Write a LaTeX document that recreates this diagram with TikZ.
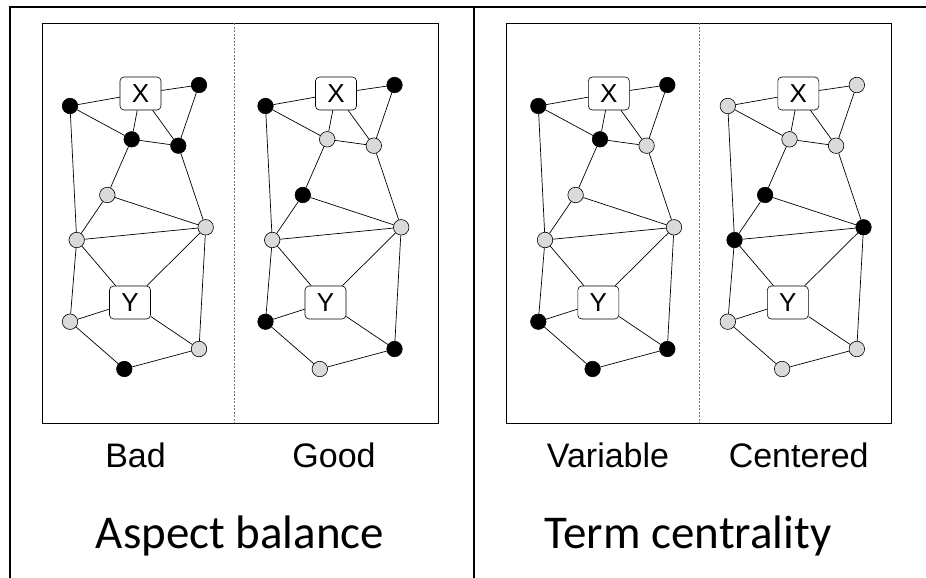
\documentclass[tikz,border=0pt]{standalone}
\usepackage{fontspec}
\setmainfont{Liberation Sans}
\newfontfamily\calfont{Carlito}
\newcommand{\termfont}{\fontsize{26}{26}\selectfont}
\definecolor{nodegray}{RGB}{218,218,218}
\definecolor{dashgray}{RGB}{120,120,120}
\begin{document}
\begin{tikzpicture}[x=1pt,y=-1pt,
  vtx/.style={circle,draw=black,line width=0.6pt,minimum size=15.5pt,inner sep=0pt},
  blk/.style={vtx,fill=black},
  gry/.style={vtx,fill=nodegray},
  termbox/.style={draw=black,line width=0.6pt,rounded corners=4pt,fill=white,
    minimum width=41pt,minimum height=33pt,inner sep=0pt},
  link/.style={line width=0.7pt,draw=black},
  frameline/.style={line width=1.7pt,draw=black},
  panelbox/.style={line width=0.8pt,draw=black},
  divider/.style={line width=0.8pt,draw=dashgray,dash pattern=on 2pt off 1.5pt},
  sublabel/.style={anchor=base,font=\fontsize{34}{34}\selectfont},
  mainlabel/.style={anchor=base,font=\calfont\fontsize{47}{47}\selectfont}]
\useasboundingbox (0,0) rectangle (926,578);
\fill[white] (0,0) rectangle (926,578);
% outer frame
\draw[frameline] (9,6.7) -- (926,6.7);
\draw[frameline] (10,6) -- (10,578);
\draw[frameline] (474.3,6) -- (474.3,578);
% panel boxes
\draw[panelbox] (42.7,23.3) rectangle (438.3,423.3);
\draw[panelbox] (506,23.3) rectangle (891.7,423.3);
\coordinate (d1t) at (234.7,23.3); \coordinate (d1b) at (234.7,423.3);
\coordinate (d2t) at (699,23.3); \coordinate (d2b) at (699,423.3);
\draw[divider] (d1t) -- (d1b);
\draw[divider] (d2t) -- (d2b);
% graphs
\foreach \p/\dx/\ca/\cb/\cc/\cd/\ce/\cf/\cg/\ch/\ci/\cj in {
  A/0/blk/blk/blk/blk/gry/gry/gry/gry/gry/blk,
  B/195.5/blk/blk/gry/gry/blk/gry/gry/blk/blk/gry,
  C/468.3/blk/blk/blk/gry/gry/gry/gry/blk/blk/blk,
  D/657.8/gry/gry/gry/gry/blk/blk/blk/gry/gry/gry}{
  \begin{scope}[xshift=\dx]
    \node[termbox] (\p X) at (140.5,93.5) {\termfont X};
    \node[termbox] (\p Y) at (130,302.5) {\termfont Y};
    \node[\ca] (\p a) at (70,106) {};
    \node[\cb] (\p b) at (199,85) {};
    \node[\cc] (\p c) at (131.7,139.3) {};
    \node[\cd] (\p d) at (178.3,145.7) {};
    \node[\ce] (\p e) at (107.3,195) {};
    \node[\cf] (\p f) at (205.7,227.3) {};
    \node[\cg] (\p g) at (76.7,240) {};
    \node[\ch] (\p h) at (70,321.7) {};
    \node[\ci] (\p i) at (199,349) {};
    \node[\cj] (\p j) at (124.3,369) {};
    \draw[link] (\p a) -- (\p X);
    \draw[link] (\p X) -- (\p b);
    \draw[link] (\p a) -- (\p c);
    \draw[link] (\p X) -- (\p c);
    \draw[link] (\p X) -- (\p d);
    \draw[link] (\p b) -- (\p d);
    \draw[link] (\p c) -- (\p d);
    \draw[link] (\p c) -- (\p e);
    \draw[link] (\p a) -- (\p g);
    \draw[link] (\p e) -- (\p g);
    \draw[link] (\p e) -- (\p f);
    \draw[link] (\p g) -- (\p f);
    \draw[link] (\p d) -- (\p f);
    \draw[link] (\p g) -- (\p Y);
    \draw[link] (\p g) -- (\p h);
    \draw[link] (\p h) -- (\p Y);
    \draw[link] (\p h) -- (\p j);
    \draw[link] (\p j) -- (\p i);
    \draw[link] (\p i) -- (\p f);
    \draw[link] (\p Y) -- (\p f);
    \draw[link] (\p Y) -- (\p i);
  \end{scope}
}
% labels
\node[sublabel] (lbad) at (135.5,467.7) {Bad};
\node[sublabel] (lgood) at (334,467.7) {Good};
\node[sublabel] (lvar) at (608,467.7) {Variable};
\node[sublabel] (lcen) at (798.7,467.7) {Centered};
\node[mainlabel] (laspect) at (240,548.3) {Aspect balance};
\node[mainlabel] (lterm) at (688,548.3) {Term centrality};
\end{tikzpicture}
\end{document}
